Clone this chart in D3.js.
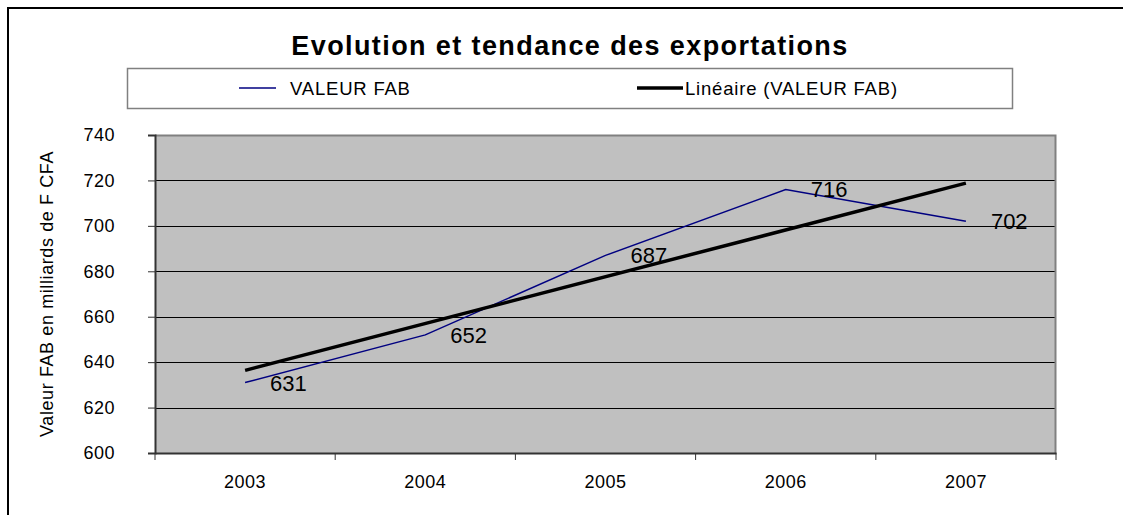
<!DOCTYPE html>
<html>
<head>
<meta charset="utf-8">
<script src="https://cdn.jsdelivr.net/npm/d3@7"></script>
<style>
  body { margin: 0; background: #fff; }
  text { font-family: "Liberation Sans", Arial, sans-serif; fill: #000; }
</style>
</head>
<body>
<div id="chart"></div>
<script>
var years = ["2003", "2004", "2005", "2006", "2007"];
var valeurFab = [631, 652, 687, 716, 702];
var yTicks = [600, 620, 640, 660, 680, 700, 720, 740];
var seriesNames = ["VALEUR FAB", "Linéaire (VALEUR FAB)"];

var W = 1123, H = 515;
var margin = { top: 135, right: 67, bottom: 62, left: 155 },
    width = W - margin.left - margin.right,
    height = H - margin.top - margin.bottom;

var svg = d3.select("#chart")
    .append("svg")
    .attr("width", W)
    .attr("height", H);

// outer frame, runs off the right and bottom edges
svg.append("rect")
    .attr("x", 8).attr("y", 8)
    .attr("width", W + 20).attr("height", H + 20)
    .attr("fill", "none")
    .attr("stroke", "#000")
    .attr("stroke-width", 2);

svg.append("text")
    .attr("x", 570).attr("y", 55)
    .attr("text-anchor", "middle")
    .style("font-size", "27px")
    .style("font-weight", "bold")
    .style("letter-spacing", "1.4px")
    .text("Evolution et tendance des exportations");

// legend
svg.append("rect")
    .attr("x", 127.5).attr("y", 68.5)
    .attr("width", 885).attr("height", 40)
    .attr("fill", "#fff")
    .attr("stroke", "#808080")
    .attr("stroke-width", 1.5);

var legend = [
    { name: seriesNames[0], x1: 239, x2: 276, tx: 290, color: "#000080", w: 1.5 },
    { name: seriesNames[1], x1: 637, x2: 683, tx: 685, color: "#000", w: 3.5 }
];
legend.forEach(function (d) {
    svg.append("line")
        .attr("x1", d.x1).attr("x2", d.x2)
        .attr("y1", 88).attr("y2", 88)
        .attr("stroke", d.color)
        .attr("stroke-width", d.w);
    svg.append("text")
        .attr("x", d.tx).attr("y", 94.5)
        .style("font-size", "18.5px")
        .style("letter-spacing", "0.8px")
        .text(d.name);
});

var g = svg.append("g")
    .attr("transform", "translate(" + margin.left + "," + margin.top + ")");

var x = d3.scaleBand()
    .domain(years)
    .range([0, width]);

var y = d3.scaleLinear()
    .domain([600, 740])
    .range([height, 0]);

g.append("rect")
    .attr("width", width).attr("height", height)
    .attr("fill", "#c0c0c0");

// gridlines
g.selectAll(".grid")
    .data(yTicks.filter(function (d) { return d > 600 && d < 740; }))
    .enter()
    .append("line")
    .attr("x1", 0).attr("x2", width)
    .attr("y1", function (d) { return Math.round(y(d)) + 0.5; })
    .attr("y2", function (d) { return Math.round(y(d)) + 0.5; })
    .attr("stroke", "#000")
    .attr("stroke-width", 1);

// top and right border of plot area
g.append("path")
    .attr("d", "M0,0.5H" + (width - 0.5) + "V" + height)
    .attr("fill", "none")
    .attr("stroke", "#808080")
    .attr("stroke-width", 2);

var yAxis = g.append("g")
    .call(d3.axisLeft(y).tickValues(yTicks).tickSize(7).tickPadding(33));
yAxis.select(".domain").attr("stroke", "#333").attr("stroke-width", 2);
yAxis.selectAll(".tick line").attr("stroke", "#333");
yAxis.selectAll("text")
    .style("font-size", "18px")
    .style("letter-spacing", "0.5px")
    .attr("fill", "#000");

var xAxis = g.append("g")
    .attr("transform", "translate(0," + height + ")")
    .call(d3.axisBottom(x).tickSize(0).tickPadding(22));
xAxis.select(".domain").attr("stroke", "#333").attr("stroke-width", 2);
xAxis.selectAll("text")
    .style("font-size", "18px")
    .style("letter-spacing", "0.5px")
    .attr("fill", "#000");

// category separators on the x axis
g.selectAll(".xsep")
    .data(years.concat(["end"]))
    .enter()
    .append("line")
    .attr("x1", function (d, i) { return i * x.step(); })
    .attr("x2", function (d, i) { return i * x.step(); })
    .attr("y1", height).attr("y2", height + 7)
    .attr("stroke", "#333");

g.append("text")
    .attr("transform", "translate(" + (53 - margin.left) + "," + (height / 2) + ")rotate(-90)")
    .attr("text-anchor", "middle")
    .style("font-size", "18px")
    .style("letter-spacing", "0.6px")
    .text("Valeur FAB en milliards de F CFA");

var cx = function (i) { return x(years[i]) + x.bandwidth() / 2; };

// linear trend (least squares on the series)
var n = valeurFab.length;
var mx = d3.mean(valeurFab, function (d, i) { return i + 1; });
var my = d3.mean(valeurFab);
var slope = d3.sum(valeurFab, function (d, i) { return (i + 1 - mx) * (d - my); }) /
    d3.sum(valeurFab, function (d, i) { return (i + 1 - mx) * (i + 1 - mx); });
var trend = [0, n - 1].map(function (i) { return { i: i, v: my + slope * (i + 1 - mx) }; });

var line = d3.line()
    .x(function (d) { return cx(d.i); })
    .y(function (d) { return y(d.v); });

g.append("path")
    .datum(valeurFab.map(function (v, i) { return { i: i, v: v }; }))
    .attr("d", line)
    .attr("fill", "none")
    .attr("stroke", "#000080")
    .attr("stroke-width", 1.5);

g.append("path")
    .datum(trend)
    .attr("d", line)
    .attr("fill", "none")
    .attr("stroke", "#000")
    .attr("stroke-width", 3.5);

g.selectAll(".lbl")
    .data(valeurFab)
    .enter()
    .append("text")
    .attr("x", function (d, i) { return cx(i) + 25; })
    .attr("y", function (d) { return y(d); })
    .attr("dy", "0.36em")
    .style("font-size", "22px")
    .text(function (d) { return d; });
</script>
</body>
</html>
